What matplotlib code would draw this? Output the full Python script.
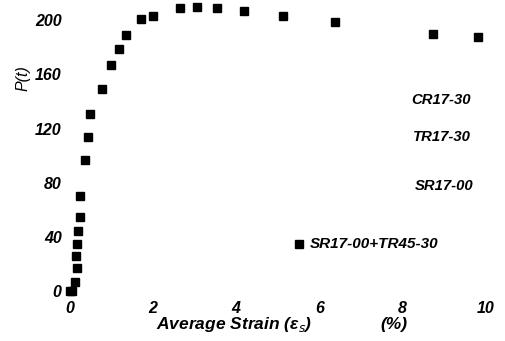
import matplotlib.pyplot as plt

plt.rcParams['font.family'] = ['Liberation Sans', 'DejaVu Sans']

# measured points (strain %, load t)
strain = [0.0, 0.06, 0.12, 0.16, 0.15, 0.17, 0.2, 0.24, 0.24, 0.36, 0.44, 0.48, 0.76, 0.98,
          1.17, 1.36, 1.72, 1.99, 2.64, 3.05, 3.53, 4.2, 5.13, 6.38, 8.73, 9.83]
load = [0, 0, 7, 17, 26, 35, 44, 55, 70, 97, 114, 131, 149, 167,
        179, 189, 201, 203, 209, 210, 209, 207, 203, 199, 190, 188]

xticks = [0, 2, 4, 6, 8, 10]
yticks = [0, 40, 80, 120, 160, 200]

labels = ['CR17-30', 'TR17-30', 'SR17-00']
label_x = [9.64, 8.25, 9.7]
label_y = [141, 114, 77.5]
label_ha = ['right', 'left', 'right']

legend_x = 5.5
legend_y = 35
legend_text = 'SR17-00+TR45-30'

fig = plt.figure(figsize=(5.06, 3.41), dpi=100)
ax = fig.add_axes([0.1383, 0.1466, 0.8458, 0.8534])

ax.plot(strain, load, 's', color='black', markersize=5.5, clip_on=False)
ax.plot([legend_x], [legend_y], 's', color='black', markersize=5.5)
ax.text(legend_x + 0.28, legend_y, legend_text, fontsize=11, fontweight='bold',
        style='italic', va='center', ha='left')

for t, x, y, ha in zip(labels, label_x, label_y, label_ha):
    ax.text(x, y, t, fontsize=10.7, fontweight='bold', style='italic', va='center', ha=ha)

ax.set_xlim(0, 10.3)
ax.set_ylim(0, 215)
ax.set_xticks(xticks)
ax.set_yticks(yticks)
ax.set_xticklabels([str(v) for v in xticks], fontsize=11.5, fontweight='bold', style='italic')
ax.set_yticklabels([str(v) for v in yticks], fontsize=11.5, fontweight='bold', style='italic')
ax.tick_params(axis='x', length=0, pad=7)
ax.tick_params(axis='y', length=0, pad=6)
for s in ax.spines.values():
    s.set_visible(False)

fig.text(0.4634, 0.047, 'Average Strain (\u03b5$_s$)', fontsize=12.5, fontweight='bold',
         style='italic', ha='center', va='center')
fig.text(0.778, 0.047, '(%)', fontsize=12.5, fontweight='bold', style='italic',
         ha='center', va='center')
fig.text(0.045, 0.77, 'P(t)', fontsize=11.5, style='italic',
         rotation=90, ha='center', va='center')

fig.savefig('out.png', dpi=100)
